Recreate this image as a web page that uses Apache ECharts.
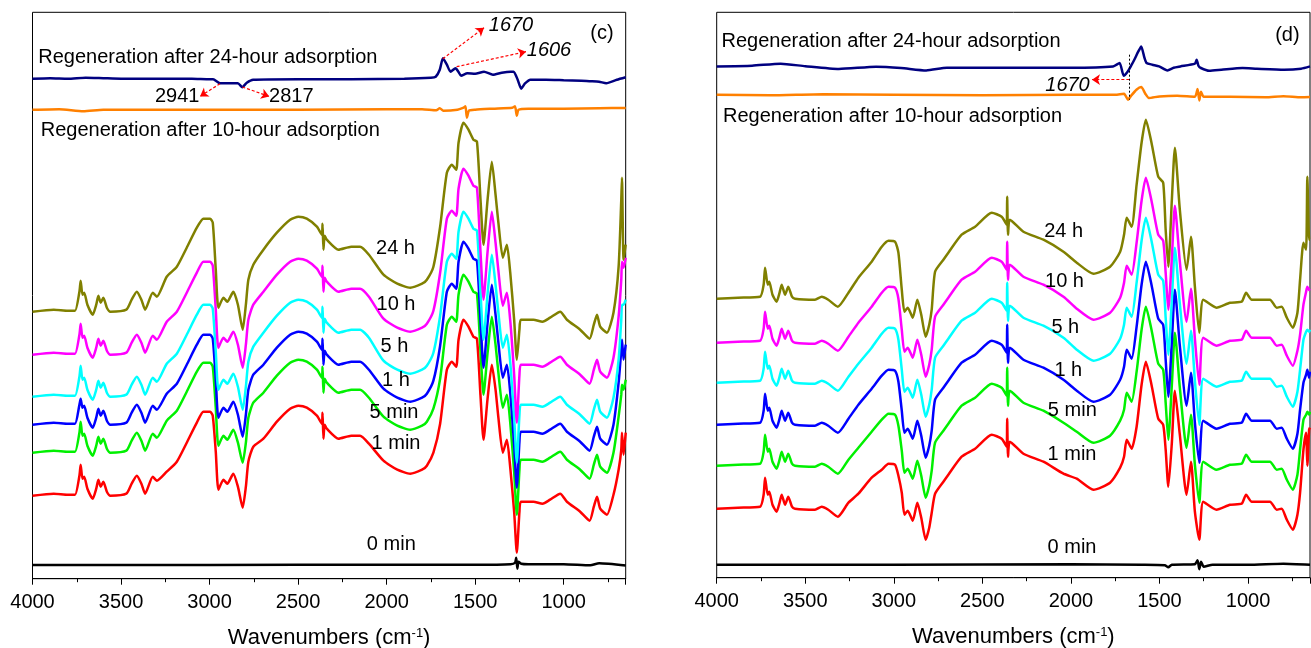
<!DOCTYPE html>
<html>
<head>
<meta charset="utf-8">
<script src="https://cdn.jsdelivr.net/npm/echarts@6/dist/echarts.min.js"></script>
<style>
  html, body { margin: 0; background: #fff; }
  #chart { width: 1311px; height: 648px; }
</style>
</head>
<body>
<div id="chart"></div>
<script>
// panel (c): wavenumbers and offset absorbance (arb. units)
const WN_C = [4000,3880,3800,3760,3735,3728,3718,3708,3690,3660,3640,3628,3615,3600,3580,3560,3470,3440,3411,3385,3364,3321,3298,3242,3185,3129,3072,3035,2997,2982,2965,2950,2922,2900,2866,2840,2813,2795,2781,2753,2696,2620,2545,2498,2451,2394,2366,2362,2357,2350,2338,2272,2200,2150,2100,2018,1940,1867,1800,1773,1736,1698,1660,1632,1607,1594,1566,1538,1510,1490,1470,1453,1430,1406,1385,1369,1344,1321,1302,1280,1265,1250,1242,1171,1120,1077,1020,982,907,854,830,812,794,756,719,690,675,671,662,650];
const C_24H = [267,269,268,268,287,298,284,286,274,264,274,283,276,281,271,267,269,279,287,279,269,286,282,302,312,331,351,360,360,356,309,271,281,277,287,274,249,274,299,314,329,346,359,362,360,352,344,355,329,343,339,329,332,332,324,304,295,291,295,299,312,352,406,414,409,436,456,449,439,437,379,334,379,417,384,356,321,334,306,259,219,249,259,259,257,261,267,259,249,240,254,264,252,246,266,312,379,401,319,334];
const C_10H = [224,226,225,225,244,255,241,243,231,221,231,240,233,238,228,224,226,236,244,236,226,243,239,257,267,286,306,317,317,313,269,231,241,237,247,234,211,234,259,274,287,304,317,320,318,310,302,313,287,301,297,287,290,290,282,260,251,247,251,255,268,306,360,368,363,390,410,403,393,391,327,279,327,367,336,308,273,286,258,204,156,204,214,214,212,216,222,214,204,195,209,219,207,201,221,262,299,317,311,321];
const C_5H = [182,184,183,183,202,213,199,201,189,179,189,198,191,196,186,182,184,194,202,194,184,201,197,215,225,244,264,274,274,270,227,189,199,195,205,192,169,192,217,232,246,263,276,279,277,269,261,272,246,260,256,246,249,249,241,218,209,205,209,213,226,263,317,325,320,347,367,360,350,348,287,239,285,324,294,266,231,244,216,161,116,164,174,174,172,176,182,174,164,155,169,179,167,161,181,219,259,274,274,279];
const C_1H = [154,156,155,155,174,180,171,173,161,151,161,170,163,168,158,154,156,166,174,166,156,173,169,185,195,214,234,244,244,240,199,161,171,167,177,164,142,164,189,204,214,231,244,247,245,237,229,240,214,228,224,214,217,217,209,190,181,177,181,185,198,233,287,295,290,317,337,330,320,318,258,211,256,294,264,236,201,214,186,134,91,137,147,147,145,149,155,147,137,128,142,152,140,134,154,196,229,239,219,234];
const C_5MIN = [126,128,127,127,146,157,143,145,133,123,133,142,135,140,130,126,128,138,146,138,128,145,141,158,168,187,207,216,216,212,171,133,143,139,149,136,116,136,161,176,186,203,216,219,217,209,201,212,186,200,196,186,189,189,181,162,153,149,153,157,170,200,254,262,257,284,304,297,287,285,228,184,226,262,234,206,171,184,156,107,64,109,119,119,117,121,127,119,109,100,114,124,112,106,126,162,184,194,189,199];
const C_1MIN = [83,85,84,84,103,114,100,102,90,80,90,99,92,97,87,83,85,95,103,95,85,102,98,107,117,136,156,167,167,163,127,89,99,95,105,92,71,92,117,132,140,157,170,173,171,163,155,166,140,154,150,140,143,143,135,118,109,105,109,113,126,155,209,217,212,239,259,252,242,240,183,139,180,214,189,161,126,139,111,67,26,67,77,77,75,79,85,77,67,58,72,82,70,64,84,109,129,146,124,146];

const WN_C_R24 = [4000,3900,3800,3700,3600,3500,3400,3300,3100,3000,2980,2941,2866,2840,2815,2790,2754,2500,2200,1900,1750,1723,1700,1682,1660,1639,1611,1595,1580,1544,1500,1450,1400,1350,1300,1283,1260,1240,1220,1188,1100,1000,900,855,800,760,700,650];
const C_R24 = [500,500.5,500,501,500.5,500,500,500,500,499.5,499.5,495.5,495.5,495.5,491.5,496,499,499.5,499.5,500,501,502,509,520.5,514,507,510.5,507,503,505.5,505,507,504,506,507,507,499,490,495,499,499,498.5,498,497.5,497,495.5,499,501.5];
const WN_C_R10 = [4000,3850,3713,3600,3300,3000,2500,2000,1800,1720,1700,1680,1600,1565,1555,1547,1535,1500,1400,1290,1275,1265,1255,1200,1000,800,650];
const C_R10 = [469,469.5,467.5,469,469,469,469,469.5,469.5,468.5,470.5,468,469,471,472.5,461,468,469,470,471,472.5,463,469,470,470,470.5,470.7];
const WN_C_0 = [4000,3000,2000,1500,1300,1275,1268,1262,1255,1240,1200,1000,850,800,650];
const C_0MIN = [13.7,13.7,14,14,14.5,16,21,10,17,15,14.5,14.5,13.5,15.5,13.3];

// panel (d)
const WN_D = [4000,3880,3755,3735,3727,3712,3703,3685,3662,3645,3633,3614,3596,3575,3558,3445,3407,3370,3316,3256,3200,3125,3068,3030,2993,2974,2955,2940,2921,2893,2867,2845,2820,2800,2786,2767,2720,2692,2617,2541,2447,2391,2363,2360,2355,2345,2268,2155,2042,1967,1873,1779,1722,1700,1685,1657,1629,1601,1577,1545,1507,1479,1465,1450,1430,1413,1385,1347,1322,1300,1275,1253,1178,1102,1036,1011,979,876,838,810,781,747,721,706,687,672,665,655,650];
const D_24H = [279,280,281,293,310,293,296,283,276,285,293,283,291,281,279,278,281,278,271,285,300,316,331,337,336,325,288,266,270,260,278,263,241,253,268,306,318,325,343,351,365,361,353,381,343,358,346,338,326,315,304,311,326,343,360,351,393,435,458,435,401,395,348,311,378,430,368,308,341,291,245,278,270,275,276,285,278,278,270,271,260,250,265,298,335,328,401,338,338];
const D_10H = [235,236,237,249,266,249,252,239,232,241,249,239,247,237,235,234,237,234,227,241,255,271,285,291,290,279,248,226,230,220,238,223,201,213,228,261,273,280,298,306,320,316,308,336,298,313,301,293,281,269,258,265,280,295,312,303,335,377,400,377,343,337,305,268,320,372,316,256,289,239,193,240,232,237,238,247,240,240,232,233,222,212,227,243,273,286,291,288,287];
const D_5H = [195,196,197,209,226,209,212,199,192,201,209,199,207,197,195,194,197,194,187,201,214,230,244,250,249,238,208,186,190,180,198,183,161,173,188,220,232,239,257,265,279,275,267,295,257,272,260,252,240,228,217,224,239,253,270,261,295,337,360,337,303,297,260,223,278,330,274,214,247,197,153,199,191,196,197,206,199,199,191,192,181,171,186,208,238,246,248,246,248];
const D_1H = [153,154,155,167,184,167,170,157,150,159,167,157,165,155,153,152,155,152,145,159,173,189,202,208,207,196,167,145,149,139,157,142,120,132,147,178,190,197,215,223,237,233,225,253,215,230,218,210,198,187,176,183,198,211,228,219,251,293,316,293,259,253,218,181,236,288,232,172,205,155,115,157,149,154,155,164,157,157,149,150,139,129,144,168,195,203,208,200,206];
const D_5MIN = [112,113,114,126,143,126,129,116,109,118,126,116,124,114,112,111,114,111,104,118,130,146,158,164,163,152,127,105,109,99,117,102,80,92,107,135,147,154,172,180,194,190,182,210,172,187,175,167,155,146,135,142,157,168,185,176,206,248,271,248,214,208,175,138,193,245,190,130,163,113,75,116,108,113,114,123,116,116,108,109,98,88,103,128,158,163,166,163,166];
const D_1MIN = [69,70,71,83,100,83,86,73,66,75,83,73,81,71,69,68,71,68,61,75,84,100,108,114,113,102,85,63,67,57,75,60,38,50,65,84,96,103,121,129,143,139,131,159,121,136,124,116,104,99,88,95,110,121,138,129,151,193,216,193,159,153,128,91,135,187,143,83,116,66,38,76,68,73,74,83,76,76,68,69,58,48,63,85,128,145,112,148,150];

const WN_D_R24 = [4000,3800,3639,3500,3310,3100,2959,2817,2700,2300,2000,1762,1725,1702,1680,1660,1642,1620,1603,1585,1573,1540,1502,1455,1420,1382,1300,1290,1280,1266,1219,1150,1031,950,796,700,650];
const D_R24 = [511.3,512,514,511.5,508.7,511,509.7,507.3,510,510,510,511.3,514.7,502,506,512,518,526,531.3,520,514.7,513,511.3,507.3,510,511.3,514,518,512,509.7,507,508,509.7,509,508,509,511.3];
const WN_D_R10 = [4000,3700,3400,3000,2500,2000,1750,1700,1678,1660,1630,1603,1580,1560,1500,1400,1300,1285,1275,1266,1250,1100,900,800,700,650];
const D_R10 = [483,482.5,483.5,483,482.5,483,483,484,478,482,488,490.7,484,479.7,481.3,482,481,488.7,477.3,486,481,481,480.5,481.5,480.5,480.7];
const WN_D_0 = [4000,3000,2000,1600,1470,1450,1430,1300,1285,1275,1265,1250,1200,1000,800,650];
const D_0MIN = [13,13,13.5,13,12.5,10.5,13,13.5,17.5,8.5,16,11,13,13,14,13];

const FONT = '"Liberation Sans", Arial, sans-serif';

const pairs = (xs, ys) => xs.map((x, i) => [x, ys[i]]);

function line(name, color, xs, ys, gi, extra) {
  return Object.assign({
    name,
    type: 'line',
    xAxisIndex: gi,
    yAxisIndex: gi,
    data: pairs(xs, ys),
    showSymbol: false,
    symbol: 'none',
    smooth: 0.2,
    lineStyle: { color, width: 2.5 },
    itemStyle: { color },
    z: 3,
  }, extra || {});
}

const arrowStyle = { color: '#ff0000', type: [3, 2], width: 1.2 };

function xAxis(gi) {
  return {
    type: 'value',
    gridIndex: gi,
    inverse: true,
    min: 650,
    max: 4000,
    name: 'Wavenumbers (cm{sup|-1})',
    nameLocation: 'middle',
    nameGap: 48,
    nameTextStyle: {
      color: '#000', fontSize: 22, fontFamily: FONT,
      rich: { sup: { color: '#000', fontSize: 13, fontFamily: FONT, verticalAlign: 'top', lineHeight: 10 } },
    },
    axisLine: { show: true, onZero: false, lineStyle: { color: '#000', width: 1 } },
    axisTick: { show: true, inside: false, length: 6, lineStyle: { color: '#000', width: 1 } },
    minorTick: { show: true, splitNumber: 2, length: 3.5, lineStyle: { color: '#000', width: 1 } },
    splitLine: { show: false },
    axisLabel: {
      color: '#000', fontSize: 20, fontFamily: FONT, margin: 14,
      showMinLabel: false, showMaxLabel: true,
      formatter: (v) => String(v),
    },
  };
}

function yAxis(gi, max) {
  return { type: 'value', gridIndex: gi, min: 0, max, show: false, splitLine: { show: false } };
}

function txt(text, x, y, align, italic) {
  return {
    type: 'text', x, y, z: 50,
    style: {
      text, fill: '#000',
      font: (italic ? 'italic ' : '') + '20px ' + FONT,
      align: align || 'center', verticalAlign: 'middle',
      textAlign: align || 'center', textVerticalAlign: 'middle',
    },
  };
}

const chart = echarts.init(document.getElementById('chart'), null, { renderer: 'canvas' });

chart.setOption({
  animation: false,
  backgroundColor: '#fff',
  grid: [
    { left: 32.5, top: 12.3, width: 593.2, height: 566.4, show: true, borderColor: '#000', borderWidth: 1,
      containLabel: false, outerBoundsMode: 'none' },
    { left: 716.7, top: 12.3, width: 593.3, height: 565.4, show: true, borderColor: '#000', borderWidth: 1,
      containLabel: false, outerBoundsMode: 'none' },
  ],
  xAxis: [xAxis(0), xAxis(1)],
  yAxis: [yAxis(0, 566.4), yAxis(1, 565.4)],
  series: [
    line('0 min', '#000000', WN_C_0, C_0MIN, 0),
    line('1 min', '#ff0000', WN_C, C_1MIN, 0),
    line('5 min', '#00f000', WN_C, C_5MIN, 0),
    line('1 h', '#0000ff', WN_C, C_1H, 0),
    line('5 h', '#00ffff', WN_C, C_5H, 0),
    line('10 h', '#ff00ff', WN_C, C_10H, 0),
    line('24 h', '#808000', WN_C, C_24H, 0),
    line('Regeneration after 10-hour adsorption', '#ff8000', WN_C_R10, C_R10, 0),
    line('Regeneration after 24-hour adsorption', '#000080', WN_C_R24, C_R24, 0, {
      markLine: {
        silent: true, animation: false,
        symbol: ['none', 'arrow'], symbolSize: 8,
        label: { show: false },
        lineStyle: arrowStyle,
        data: [
          [{ coord: [2941, 495] }, { coord: [3054, 482.3] }],
          [{ coord: [2815, 491.7] }, { coord: [2663, 482.3] }],
          [{ coord: [1683, 520] }, { coord: [1450, 551] }],
          [{ coord: [1605, 512] }, { coord: [1213, 527] }],
        ],
      },
    }),

    line('0 min', '#000000', WN_D_0, D_0MIN, 1),
    line('1 min', '#ff0000', WN_D, D_1MIN, 1),
    line('5 min', '#00f000', WN_D, D_5MIN, 1),
    line('1 h', '#0000ff', WN_D, D_1H, 1),
    line('5 h', '#00ffff', WN_D, D_5H, 1),
    line('10 h', '#ff00ff', WN_D, D_10H, 1),
    line('24 h', '#808000', WN_D, D_24H, 1),
    line('Regeneration after 10-hour adsorption', '#ff8000', WN_D_R10, D_R10, 1),
    line('Regeneration after 24-hour adsorption', '#000080', WN_D_R24, D_R24, 1, {
      markLine: {
        silent: true, animation: false,
        symbol: ['none', 'arrow'], symbolSize: 8,
        label: { show: false },
        lineStyle: arrowStyle,
        data: [
          [{ coord: [1670, 498] }, { coord: [1881, 498] }],
          [{ coord: [1670, 523], symbol: 'none', lineStyle: { color: '#000', type: [2, 2], width: 1 } },
           { coord: [1670, 478], symbol: 'none' }],
        ],
      },
    }),
  ],
  graphic: [
    txt('Regeneration after 24-hour adsorption', 38.3, 57.3, 'left'),
    txt('Regeneration after 10-hour adsorption', 40.7, 130, 'left'),
    txt('2941', 177.2, 96.7),
    txt('2817', 291.3, 96.7),
    txt('1670', 511, 25, 'center', true),
    txt('1606', 549, 50, 'center', true),
    txt('(c)', 602, 33),
    txt('24 h', 395.5, 248.3),
    txt('10 h', 396, 304),
    txt('5 h', 394.5, 346),
    txt('1 h', 396, 380),
    txt('5 min', 394, 412.3),
    txt('1 min', 396, 443.3),
    txt('0 min', 391.3, 544.3),

    txt('Regeneration after 24-hour adsorption', 721.5, 41.7, 'left'),
    txt('Regeneration after 10-hour adsorption', 723, 116.7, 'left'),
    txt('1670', 1067.5, 85, 'center', true),
    txt('(d)', 1287.4, 35),
    txt('24 h', 1063.7, 231.7),
    txt('10 h', 1064.5, 281.7),
    txt('5 h', 1065.3, 327.3),
    txt('1 h', 1068.3, 370),
    txt('5 min', 1072.3, 410.7),
    txt('1 min', 1072, 454),
    txt('0 min', 1072, 547.3),
  ],
});
</script>
</body>
</html>
